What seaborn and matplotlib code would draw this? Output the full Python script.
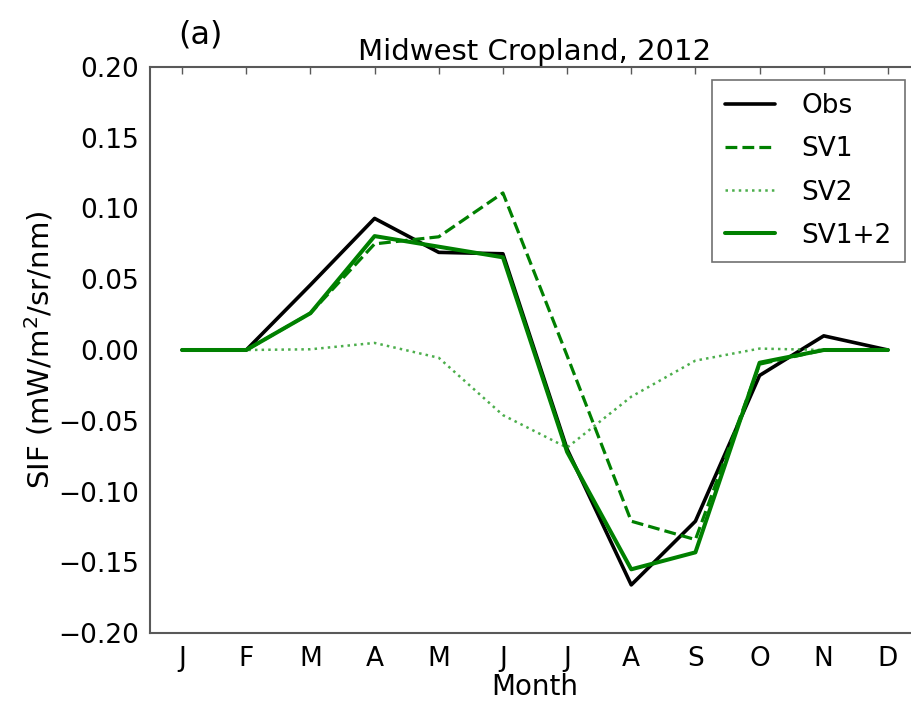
import numpy as np
import pandas as pd
import matplotlib
matplotlib.use("Agg")
import matplotlib.pyplot as plt
import seaborn as sns

# monthly SIF anomalies, Midwest Cropland 2012
months = ["J", "F", "M", "A", "M", "J", "J", "A", "S", "O", "N", "D"]
obs = [0.0, 0.0, 0.046, 0.093, 0.069, 0.068, -0.070, -0.166, -0.121, -0.018, 0.010, 0.0]
sv1 = [0.0, 0.0, 0.026, 0.075, 0.080, 0.111, -0.004, -0.121, -0.134, -0.010, 0.0, 0.0]
sv2 = [0.0, 0.0, 0.0005, 0.005, -0.0055, -0.046, -0.069, -0.033, -0.0075, 0.001, 0.0, 0.0]
sv12 = [0.0, 0.0, 0.026, 0.0805, 0.073, 0.0655, -0.072, -0.155, -0.143, -0.009, 0.0, 0.0]
yticks = [-0.20, -0.15, -0.10, -0.05, 0.00, 0.05, 0.10, 0.15, 0.20]

series = {"Obs": obs, "SV1": sv1, "SV2": sv2, "SV1+2": sv12}
styles = {
    "Obs": dict(color="black", linestyle="-", linewidth=2.6),
    "SV1": dict(color="green", linestyle="--", linewidth=2.3),
    "SV2": dict(color="#2ca02c", linestyle=":", linewidth=1.8, alpha=0.85),
    "SV1+2": dict(color="green", linestyle="-", linewidth=2.9),
}

x = np.arange(len(months))
df = pd.DataFrame({"month": np.tile(x, len(series)),
                   "value": np.concatenate([series[k] for k in series]),
                   "series": np.repeat(list(series.keys()), len(months))})

sns.set_style("white")
plt.rcParams["font.family"] = ["DejaVu Sans"]
plt.rcParams["text.color"] = "black"
plt.rcParams["axes.labelcolor"] = "black"

fig = plt.figure(figsize=(9.11, 7.03), dpi=100)
ax = fig.add_axes([150 / 911, 1 - 633 / 703, 770 / 911, 566 / 703])

for name in series:
    sub = df[df["series"] == name]
    sns.lineplot(data=sub, x="month", y="value", ax=ax, label=name, **styles[name])

ax.set_xlim(-0.5, 11.5)
ax.set_ylim(-0.2, 0.2)
ax.set_xticks(x)
ax.set_xticklabels(months)
ax.set_yticks(yticks)
ax.set_yticklabels([f"{v:.2f}".replace("-", "\u2212") for v in yticks])
ax.tick_params(direction="in", length=5, width=1, colors="0.35", labelcolor="black",
               labelsize=19, top=True, right=True)
ax.tick_params(axis="x", pad=9)
ax.tick_params(axis="y", pad=8)
for sp in ax.spines.values():
    sp.set_color("0.35")
    sp.set_linewidth(1.5)

ax.set_xlabel("Month", fontsize=20, labelpad=1)
ax.set_ylabel("SIF (mW/m$^2$/sr/nm)", fontsize=21, labelpad=2)
ax.set_title("Midwest Cropland, 2012", fontsize=21, pad=5)
fig.text(200 / 911, 1 - 35 / 703, "(a)", fontsize=23, ha="center", va="center")

leg = ax.legend(loc="upper right", bbox_to_anchor=(905 / 911, 1 - 80 / 703),
                bbox_transform=fig.transFigure, borderaxespad=0, fontsize=19,
                fancybox=False, frameon=True, handlelength=1.9, handletextpad=1.0,
                labelspacing=0.65, borderpad=0.5)
leg.get_frame().set_edgecolor("0.3")
leg.get_frame().set_linewidth(1.2)

fig.savefig("out.png", dpi=100)
